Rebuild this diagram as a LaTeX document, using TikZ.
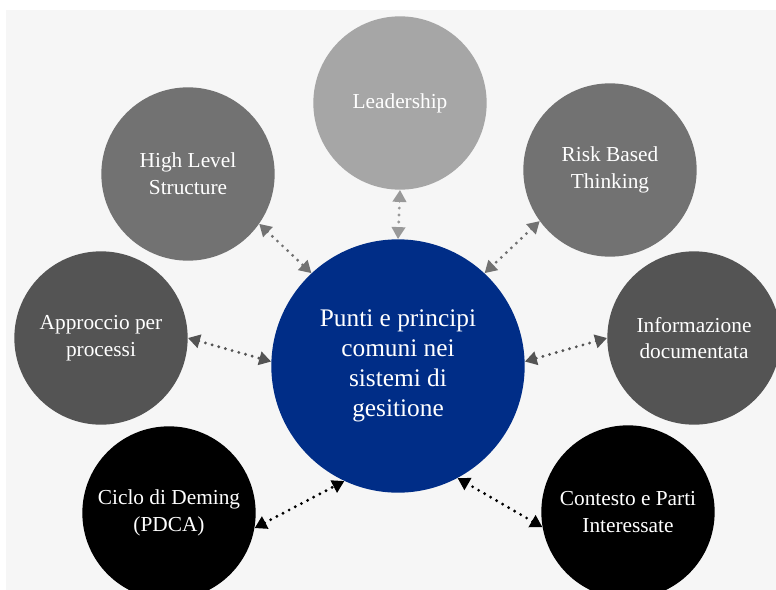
\documentclass[tikz,border=0pt]{standalone}
\usepackage{fontspec}
\setmainfont{Liberation Serif}
\usetikzlibrary{arrows.meta}
\definecolor{pagebg}{HTML}{F6F6F6}
\definecolor{leadgray}{HTML}{A6A6A6}
\definecolor{midgray}{HTML}{727272}
\definecolor{deepgray}{HTML}{545454}
\definecolor{coreblue}{HTML}{002D87}

\begin{document}
\begin{tikzpicture}[x=0.75pt,y=-0.75pt,
  topic/.style={circle,inner sep=0pt,minimum size=130pt,text=white,align=center,
    font=\fontsize{16}{20}\selectfont},
  link/.style={line width=2.4pt,line cap=round,dash pattern=on 0pt off 5.2pt,
    {Triangle[length=9pt,width=10pt]}-{Triangle[length=9pt,width=10pt]}}]
\useasboundingbox (0,0) rectangle (776,590);
\clip (0,0) rectangle (776,590);
\fill[white] (0,0) rectangle (776,590);
\fill[pagebg] (6,10) rectangle (776,590);
% central circle
\node[circle,fill=coreblue,inner sep=0pt,minimum size=190pt,text=white,align=center,
  font=\fontsize{19}{22.5}\selectfont] (core) at (398,366)
  {Punti e principi\\comuni nei\\sistemi di\\gesitione};
% outer circles
\foreach \id/\x/\y/\col/\txt in {
  lead/400/103/leadgray/Leadership,
  hls/188/174/midgray/{High Level\\Structure},
  rbt/610/170/midgray/{Risk Based\\Thinking},
  app/101/338/deepgray/{Approccio per\\processi},
  info/694/338/deepgray/{Informazione\\documentata},
  pdca/169/513/black/{Ciclo di Deming\\(PDCA)},
  ctx/628/512/black/{Contesto e Parti\\Interessate}}
  \node[topic,fill=\col] (\id) at (\x,\y) {\txt};
% dotted two-way links to the centre
\foreach \id/\a/\b/\col in {lead/-90/90/leadgray!92!black, hls/-35/133/midgray,
  rbt/-144/47/midgray, app/0/178/deepgray, info/180/2/deepgray,
  pdca/-10/245/black, ctx/190/298/black}
  \draw[link,\col] (\id.\a) -- (core.\b);
\end{tikzpicture}
\end{document}
